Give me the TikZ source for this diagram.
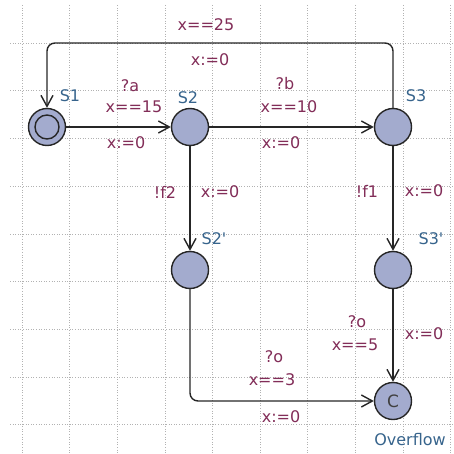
\documentclass[tikz,border=0pt]{standalone}
\usepackage{fontspec}
\setmainfont{DejaVu Sans}
\usetikzlibrary{arrows.meta, positioning}
\definecolor{locfill}{RGB}{163,171,206}
\definecolor{guardc}{RGB}{130,45,88}
\definecolor{namec}{RGB}{55,100,140}
\tikzset{
  loc/.style={circle, draw=black!85, fill=locfill, line width=1.4pt,
              minimum size=37pt, inner sep=0pt},
  flow/.style={-{Straight Barb[length=11pt, width=12pt]}, line width=1.4pt, black!85},
  guard/.style={text=guardc, font=\fontsize{16}{18}\selectfont, inner sep=0pt},
  locname/.style={text=namec, font=\fontsize{16}{18}\selectfont, inner sep=0pt},
  gridline/.style={gray!60, dotted, line width=0.6pt}
}

\begin{document}
\begin{tikzpicture}[x=1pt, y=-1pt]
  \useasboundingbox (0,0) rectangle (454,454);
  % background grid
  \foreach \gx in {0,...,9}
    \draw[gridline] ({22+47.6*\gx},5) -- ({22+47.6*\gx},454);
  \foreach \gy in {0,...,8}
    \draw[gridline] (10,{43+47.7*\gy}) -- (454,{43+47.7*\gy});

  % locations
  \node[loc] (S1) at (47,127)  {};
  \node[loc] (S2) at (190,127) {};
  \node[loc] (S3) at (393,127) {};
  \node[loc] (S2p) at (190,270) {};
  \node[loc] (S3p) at (393,270) {};
  \node[loc, font=\fontsize{17}{18}\selectfont, text=black!75] (C) at (393,401) {C};
  \draw[black!85, line width=1.4pt] (S1) circle (12);

  % location names
  \node[locname] at (70,96)   {S1};
  \node[locname] at (188,98)  {S2};
  \node[locname] at (416,96)  {S3};
  \node[locname] at (214,239) {S2\textquotesingle};
  \node[locname] at (431,239) {S3\textquotesingle};
  \node[locname] at (410,440) {Overflow};

  % edges
  \coordinate (top) at (0,43);
  \draw[flow] (S1) -- (S2);
  \draw[flow] (S2) -- (S3);
  \draw[flow] (S2) -- (S2p);
  \draw[flow] (S3) -- (S3p);
  \draw[flow] (S3p) -- (C);
  \draw[flow, rounded corners=8pt] (S3) -- (S3 |- top) -| (S1);
  \draw[flow, rounded corners=8pt] (S2p) |- (C);

  % guards, syncs and updates
  \node[guard] at (206,25)  {x==25};
  \node[guard] at (210,60)  {x:=0};
  \node[guard] at (130,86)  {?a};
  \node[guard] at (134,107) {x==15};
  \node[guard] at (126,143) {x:=0};
  \node[guard] at (285,84)  {?b};
  \node[guard] at (289,107) {x==10};
  \node[guard] at (281,143) {x:=0};
  \node[guard] at (165,192) {!f2};
  \node[guard] at (220,192) {x:=0};
  \node[guard] at (367,191) {!f1};
  \node[guard] at (424,191) {x:=0};
  \node[guard] at (357,322) {?o};
  \node[guard] at (355,345) {x==5};
  \node[guard] at (424,334) {x:=0};
  \node[guard] at (274,357) {?o};
  \node[guard] at (272,380) {x==3};
  \node[guard] at (281,417) {x:=0};
\end{tikzpicture}
\end{document}
